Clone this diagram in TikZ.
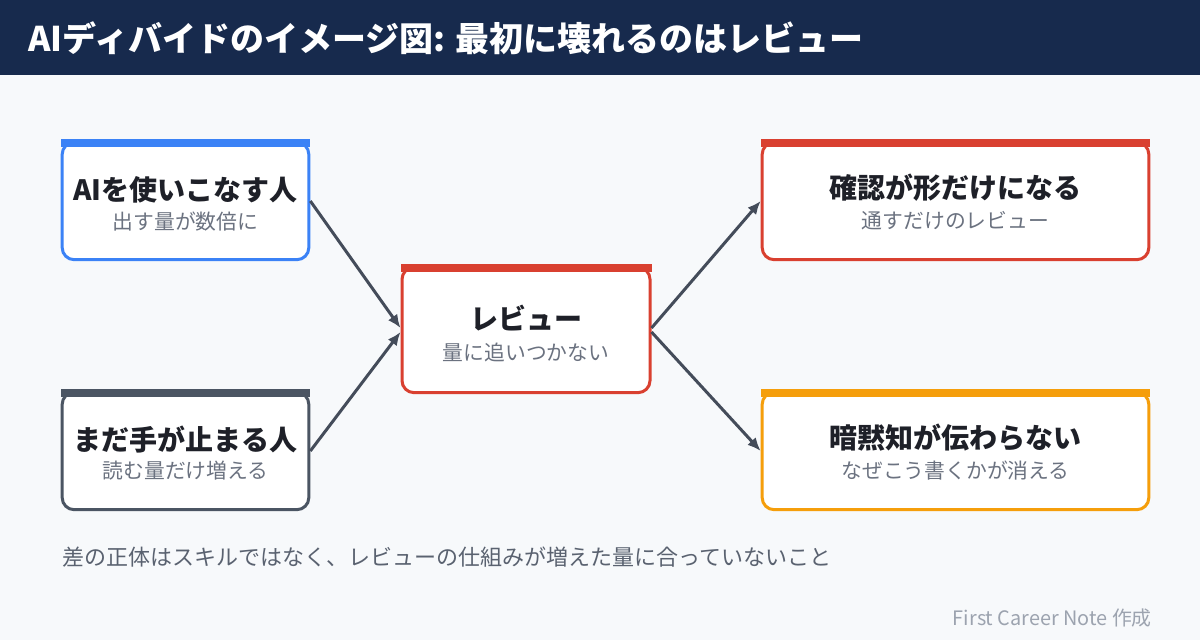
\documentclass[tikz,border=0pt]{standalone}
\usepackage{fontspec}
\setmainfont{Noto Sans CJK JP}
\usetikzlibrary{arrows.meta,positioning}

\definecolor{navy}{HTML}{172A4D}
\definecolor{paper}{HTML}{F7F9FB}
\definecolor{cblue}{HTML}{3B82F6}
\definecolor{cslate}{HTML}{4B5563}
\definecolor{cred}{HTML}{D94030}
\definecolor{corange}{HTML}{F59E0B}
\definecolor{arrowgray}{HTML}{444C5A}
\definecolor{ink}{HTML}{1E2028}
\definecolor{subgray}{HTML}{6B7280}
\definecolor{notegray}{HTML}{5A6270}
\definecolor{creditgray}{HTML}{9CA3AF}

\begin{document}
\begin{tikzpicture}[
    x=0.75pt,y=-0.75pt,
    card/.style={
        rectangle,draw=#1,fill=white,
        line width=2.25pt,rounded corners=9pt,
        minimum width=185pt,minimum height=88pt
    },
    cardtitle/.style={font=\bfseries\fontsize{21}{25}\selectfont,text=ink,inner sep=0pt},
    cardsub/.style={font=\fontsize{15.6}{19}\selectfont,text=subgray,inner sep=0pt},
    arrow/.style={-{Latex[length=10pt,width=8.5pt]},line width=2.25pt,draw=arrowgray}
    ]

    % page and title bar
    \fill[paper] (0,0) rectangle (1200,640);
    \useasboundingbox (0,0) rectangle (1200,640);
    \fill[navy] (0,0) rectangle (1200,75);
    \node[anchor=west,inner sep=0pt,text=white,font=\bfseries\fontsize{25.5}{30}\selectfont]
        (title) at (28,38) {AIディバイドのイメージ図: 最初に壊れるのはレビュー};

    % cards
    \node[card=cblue] (user) at (185.5,201) {};
    \node[card=cslate] (stuck) at (185.5,451) {};
    \node[card=cred,minimum width=186pt,minimum height=94pt] (review) at (526,330) {};
    \node[card=cred,minimum width=290pt] (formal) at (955.5,201) {};
    \node[card=corange,minimum width=290pt] (tacit) at (955.5,451) {};

    % coloured top bars
    \foreach \n/\c in {user/cblue,stuck/cslate,review/cred,formal/cred,tacit/corange}
        \fill[\c] ([yshift=1.5pt]\n.north west) rectangle ([yshift=-4.5pt]\n.north east);

    % card texts
    \node[cardtitle] (usertitle) at (185.5,190) {AIを使いこなす人};
    \node[cardsub] (usersub) at (185.5,222) {出す量が数倍に};
    \node[cardtitle] (stucktitle) at (185.5,440) {まだ手が止まる人};
    \node[cardsub] (stucksub) at (185.5,471) {読む量だけ増える};
    \node[cardtitle] (reviewtitle) at (526,318) {レビュー};
    \node[cardsub] (reviewsub) at (526,352) {量に追いつかない};
    \node[cardtitle] (formaltitle) at (955.5,188) {確認が形だけになる};
    \node[cardsub] (formalsub) at (955.5,221) {通すだけのレビュー};
    \node[cardtitle] (tacittitle) at (955.5,438) {暗黙知が伝わらない};
    \node[cardsub] (tacitsub) at (955.5,471) {なぜこう書くかが消える};

    % connectors
    \draw[arrow] (user.east) -- ([yshift=1.5pt]review.west);
    \draw[arrow] (stuck.east) -- ([yshift=-1.5pt]review.west);
    \draw[arrow] ([yshift=1.5pt]review.east) -- (formal.west);
    \draw[arrow] ([yshift=-1.5pt]review.east) -- (tacit.west);

    % footer
    \node[anchor=west,inner sep=0pt,text=notegray,font=\fontsize{16.5}{20}\selectfont]
        (note) at (62,557) {差の正体はスキルではなく、レビューの仕組みが増えた量に合っていないこと};
    \node[anchor=east,inner sep=0pt,text=creditgray,font=\fontsize{14.9}{18}\selectfont]
        (credit) at (1152,618) {First Career Note 作成};
\end{tikzpicture}
\end{document}
